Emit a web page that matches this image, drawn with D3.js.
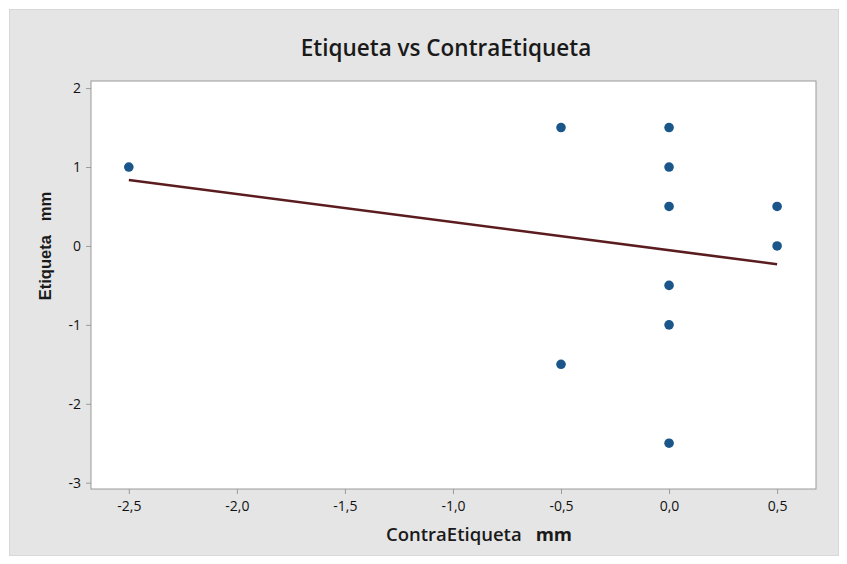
<!DOCTYPE html>
<html>
<head>
<meta charset="utf-8">
<script src="https://cdn.jsdelivr.net/npm/d3@7"></script>
<style>
  html, body { margin: 0; padding: 0; background: #ffffff; }
  svg { display: block; }
</style>
</head>
<body>
<svg id="chart" width="847" height="564"></svg>
<script>
// Observations: ContraEtiqueta (x) and Etiqueta (y), in mm
const contraEtiqueta = [-2.5, -0.5, -0.5, 0, 0, 0, 0, 0, 0, 0.5, 0.5];
const etiqueta       = [ 1.0,  1.5, -1.5, 1.5, 1.0, 0.5, -0.5, -1.0, -2.5, 0.5, 0.0];

// Fitted regression line endpoints
const fitX = [-2.5, 0.5];
const fitY = [0.835, -0.232];

// Tick values (x labels use a comma decimal)
const xTicks = [-2.5, -2.0, -1.5, -1.0, -0.5, 0.0, 0.5];
const yTicks = [-3, -2, -1, 0, 1, 2];

const svg = d3.select("#chart");
const FONT = "'Open Sans', 'Noto Sans', sans-serif";

// Outer panel
svg.append("rect")
  .attr("x", 9.5).attr("y", 9.5)
  .attr("width", 829).attr("height", 546)
  .attr("fill", "#e5e5e5")
  .attr("stroke", "#d8d8d8");

const plot = { left: 91, top: 81, right: 816, bottom: 489 };

const x = d3.scaleLinear()
  .domain([-2.675, 0.68])
  .range([plot.left, plot.right]);
const y = d3.scaleLinear()
  .domain([-3.08, 2.09])
  .range([plot.bottom, plot.top]);

// Plot area
svg.append("rect")
  .attr("x", plot.left).attr("y", plot.top)
  .attr("width", plot.right - plot.left)
  .attr("height", plot.bottom - plot.top)
  .attr("fill", "#ffffff")
  .attr("stroke", "#9a9a9a")
  .attr("stroke-width", 1);

const fmt = d => d3.format(".1f")(d).replace(".", ",").replace("−", "-");

// X axis
const xAxis = svg.append("g")
  .attr("transform", `translate(0,${plot.bottom})`)
  .call(d3.axisBottom(x).tickValues(xTicks).tickFormat(fmt).tickSize(5).tickPadding(7));
xAxis.select(".domain").remove();
xAxis.selectAll(".tick line").attr("stroke", "#9a9a9a");
xAxis.selectAll(".tick text")
  .attr("fill", "#111")
  .style("font-family", FONT)
  .style("font-size", "14px");

// Y axis
const yAxis = svg.append("g")
  .attr("transform", `translate(${plot.left},0)`)
  .call(d3.axisLeft(y).tickValues(yTicks).tickFormat(d => String(d)).tickSize(5).tickPadding(5));
yAxis.select(".domain").remove();
yAxis.selectAll(".tick line").attr("stroke", "#9a9a9a");
yAxis.selectAll(".tick text")
  .attr("fill", "#111")
  .style("font-family", FONT)
  .style("font-size", "14px");

// Fitted line
svg.append("path")
  .datum(fitX.map((v, i) => [v, fitY[i]]))
  .attr("fill", "none")
  .attr("stroke", "#5b1c1f")
  .attr("stroke-width", 2.6)
  .attr("d", d3.line().x(d => x(d[0])).y(d => y(d[1])));

// Points
svg.append("g").selectAll("circle")
  .data(contraEtiqueta.map((v, i) => [v, etiqueta[i]]))
  .join("circle")
  .attr("cx", d => x(d[0]))
  .attr("cy", d => y(d[1]))
  .attr("r", 4.8)
  .attr("fill", "#1b568a");

// Title
svg.append("text")
  .attr("x", 446).attr("y", 56)
  .attr("text-anchor", "middle")
  .attr("fill", "#1a1a1a")
  .style("font-family", FONT)
  .style("font-size", "22.5px")
  .style("font-weight", "600")
  .text("Etiqueta vs ContraEtiqueta");

// X axis label
const xl = svg.append("text")
  .attr("x", 479).attr("y", 541)
  .attr("text-anchor", "middle")
  .attr("fill", "#1a1a1a")
  .style("font-family", FONT)
  .style("font-size", "18.5px")
  .style("font-weight", "600");
xl.append("tspan").text("ContraEtiqueta");
xl.append("tspan").attr("dx", 14).style("font-weight", "bold").text("mm");

// Y axis label
const yl = svg.append("text")
  .attr("transform", "translate(51,246) rotate(-90)")
  .attr("text-anchor", "middle")
  .attr("fill", "#1a1a1a")
  .style("font-family", "'Liberation Sans', Arial, sans-serif")
  .style("font-size", "16.5px")
  .style("font-weight", "bold");
yl.append("tspan").text("Etiqueta");
yl.append("tspan").attr("dx", 14).text("mm");
</script>
</body>
</html>
